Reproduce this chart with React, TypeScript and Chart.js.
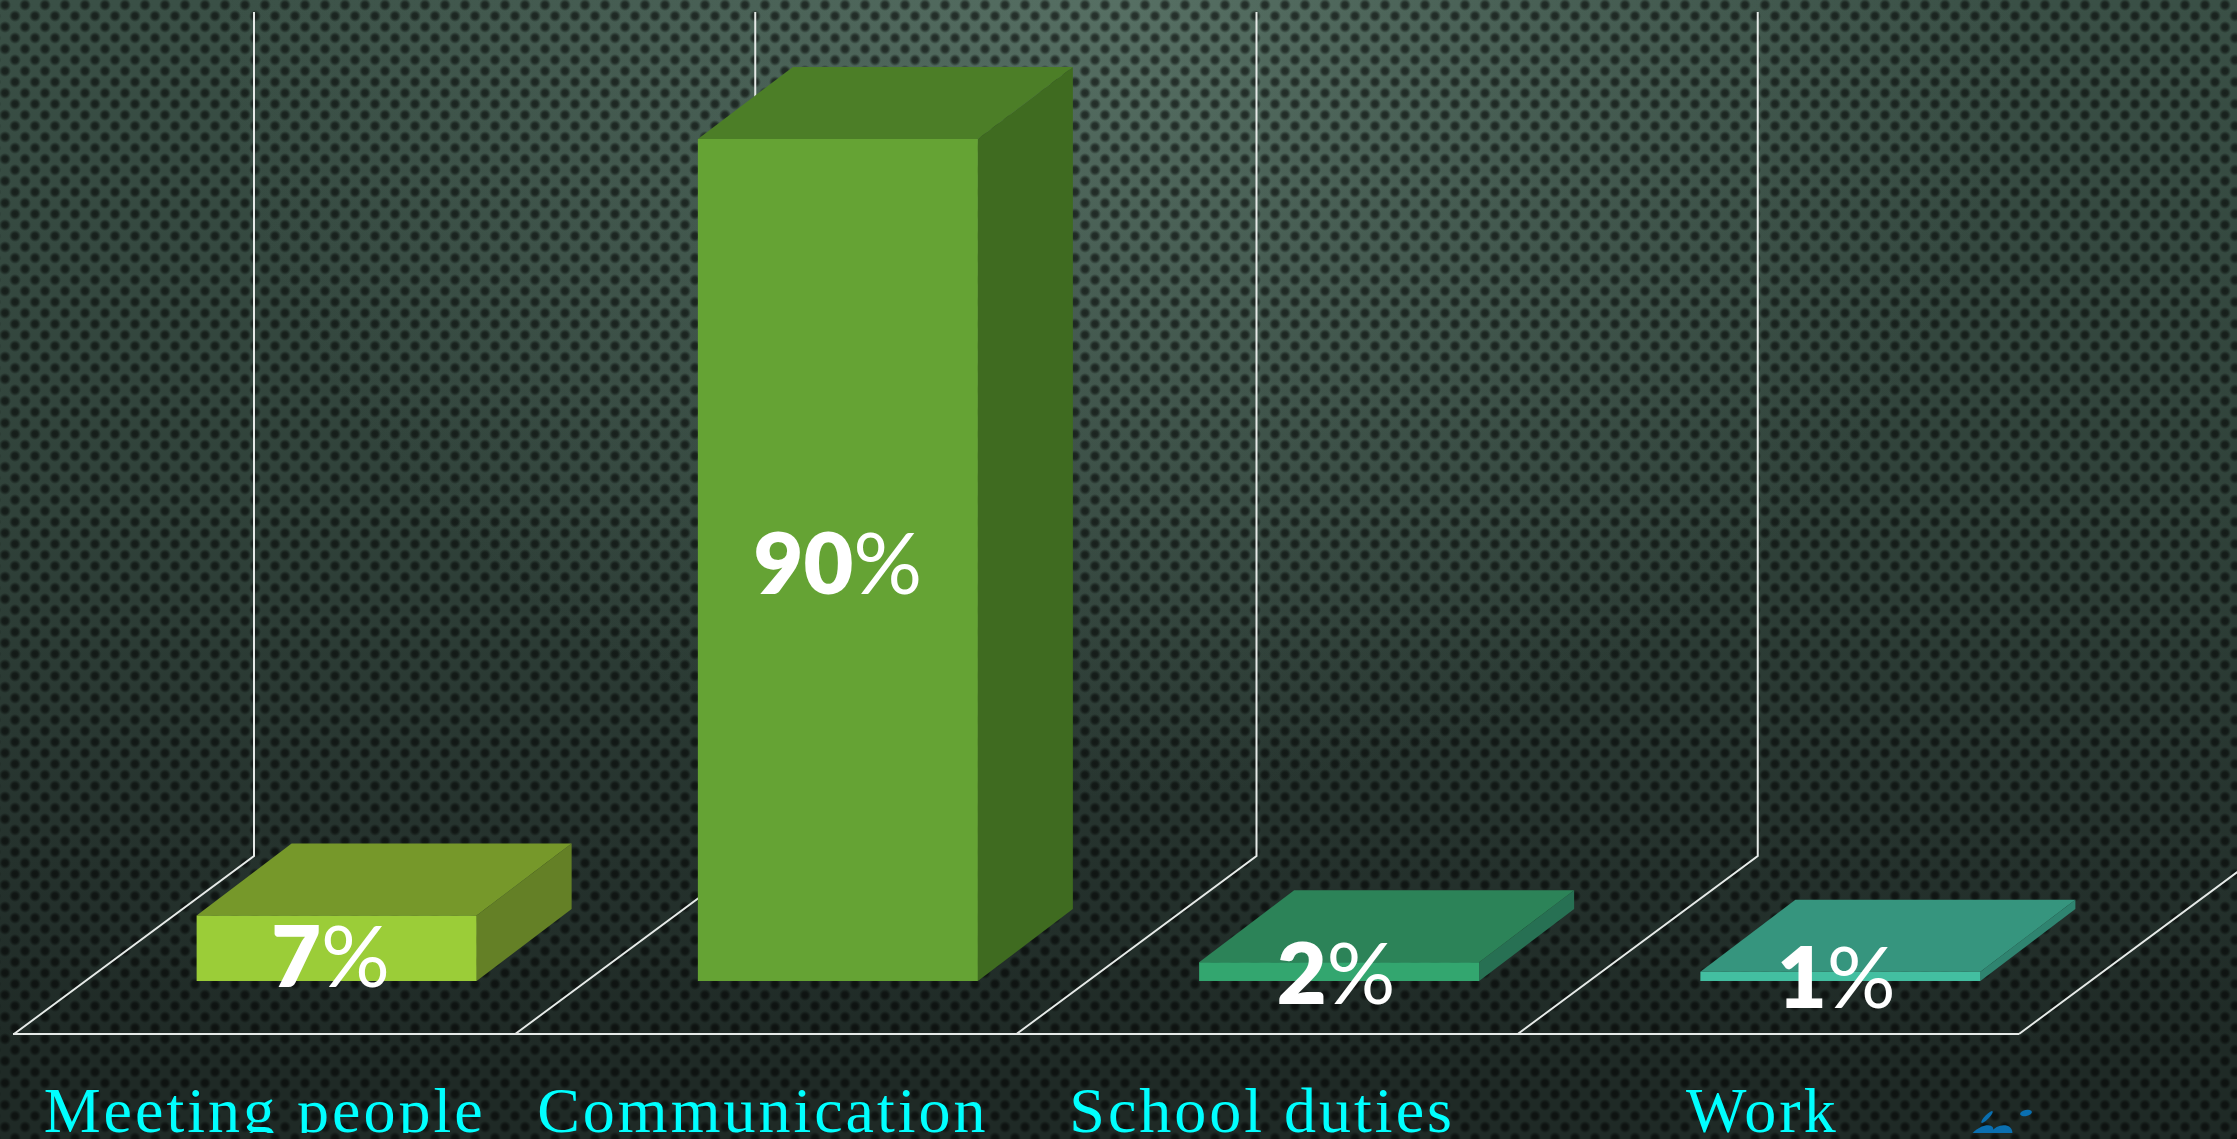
import React, { useEffect, useRef } from "react";
import { Chart, registerables } from "chart.js";

Chart.register(...registerables);

const categories = ["Meeting people", "Communication", "School duties", "Work"];
const shares = [7, 90, 2, 1];
const shareDigits = ["7", "90", "2", "1"];
const frontColors = ["#9BCD38", "#65A334", "#33A66F", "#43BFA1"];
const topColors = ["#76982A", "#4C7E27", "#2C8358", "#36957E"];
const sideColors = ["#648026", "#3F6B20", "#277053", "#2F8470"];
const labelNudge = [11, 6, 5, 4];
const labelNudgeX = [-6, 0, -3, -4];
const tickNudge = [0, -3, -5, -6];

const WIDTH = 2237;
const HEIGHT = 1133;
const BAR_DX = 95;
const BAR_DY = 72;
const FLOOR_SHIFT_X = 72;
const FLOOR_SHIFT_Y = 53;
const FLOOR_DX = 240;
const FLOOR_DY = 178;
const WALL_HEIGHT = 844;

const box3d = {
  id: "box3d",
  beforeDraw(chart: any) {
    chart.ctx.letterSpacing = "3px";
    const x = chart.scales.x;
    if (!x.$nudged) {
      x.getLabelItems().forEach((item: any, i: number) => {
        item.options.translation[0] += tickNudge[i];
      });
      x.$nudged = true;
    }
  },
  beforeDatasetsDraw(chart: any) {
    const { ctx, scales } = chart;
    const x = scales.x;
    const y = scales.y;
    const base = y.getPixelForValue(0);
    const step = (x.right - x.left) / categories.length;
    const front = base + FLOOR_SHIFT_Y;
    ctx.save();
    ctx.letterSpacing = "0px";
    ctx.strokeStyle = "#E6EAE8";
    ctx.lineWidth = 2;
    ctx.lineJoin = "miter";
    const left = x.left - FLOOR_SHIFT_X;
    ctx.beginPath();
    ctx.moveTo(left - 1, front);
    ctx.lineTo(left + step * categories.length, front);
    for (let i = 0; i <= categories.length; i++) {
      const ex = left + step * i;
      ctx.moveTo(ex, front);
      ctx.lineTo(ex + FLOOR_DX, front - FLOOR_DY);
      ctx.lineTo(ex + FLOOR_DX, front - FLOOR_DY - WALL_HEIGHT);
    }
    ctx.stroke();

    const meta = chart.getDatasetMeta(0);
    meta.data.forEach((bar: any, i: number) => {
      const l = bar.x - bar.width / 2;
      const r = bar.x + bar.width / 2;
      ctx.fillStyle = sideColors[i];
      ctx.beginPath();
      ctx.moveTo(r, bar.y);
      ctx.lineTo(r + BAR_DX, bar.y - BAR_DY);
      ctx.lineTo(r + BAR_DX, bar.base - BAR_DY);
      ctx.lineTo(r, bar.base);
      ctx.closePath();
      ctx.fill();
      ctx.fillStyle = topColors[i];
      ctx.beginPath();
      ctx.moveTo(l, bar.y);
      ctx.lineTo(l + BAR_DX, bar.y - BAR_DY);
      ctx.lineTo(r + BAR_DX, bar.y - BAR_DY);
      ctx.lineTo(r, bar.y);
      ctx.closePath();
      ctx.fill();
    });
    ctx.restore();
  },
  afterDatasetsDraw(chart: any) {
    const { ctx } = chart;
    const meta = chart.getDatasetMeta(0);
    ctx.save();
    ctx.letterSpacing = "0px";
    ctx.fillStyle = "#FFFFFF";
    ctx.textAlign = "left";
    ctx.textBaseline = "middle";
    const digitFont = "800 86px Lato";
    const signFont = "400 86px Lato";
    meta.data.forEach((bar: any, i: number) => {
      const digits = shareDigits[i];
      ctx.font = digitFont;
      const w1 = ctx.measureText(digits).width;
      ctx.font = signFont;
      const w2 = ctx.measureText("%").width;
      const startX = bar.x - (w1 + w2) / 2 + labelNudgeX[i];
      const cy = (bar.y + bar.base) / 2 + labelNudge[i];
      ctx.font = digitFont;
      ctx.fillText(digits, startX, cy);
      ctx.font = signFont;
      ctx.fillText("%", startX + w1, cy);
    });
    // fragment of the logo at the bottom right of the slide
    ctx.fillStyle = "#0A6FB0";
    const spots = [
      [1987, 1117, 8, 2, -0.8],
      [2026, 1113, 6, 3, -0.2],
      [1981, 1135, 14, 7, -0.6],
      [2001, 1135, 12, 9, -0.5],
    ];
    spots.forEach(([cx, cy, rx, ry, rot]) => {
      ctx.beginPath();
      ctx.ellipse(cx, cy, rx, ry, rot, 0, Math.PI * 2);
      ctx.fill();
    });
    ctx.restore();
  },
};

export default function App() {
  const ref = useRef<HTMLCanvasElement>(null);
  useEffect(() => {
    document.body.style.margin = "0";
    document.body.style.overflow = "hidden";
    const chart = new Chart(ref.current as HTMLCanvasElement, {
      type: "bar",
      data: {
        labels: categories,
        datasets: [
          {
            data: shares,
            backgroundColor: frontColors,
            barPercentage: 1,
            categoryPercentage: 0.5586,
            borderWidth: 0,
          },
        ],
      },
      options: {
        responsive: false,
        animation: false,
        layout: { padding: { left: 86, right: 146, top: 139, bottom: 0 } },
        plugins: { legend: { display: false }, tooltip: { enabled: false } },
        scales: {
          x: {
            grid: { display: false, drawTicks: false },
            border: { display: false },
            afterFit: (s: any) => {
              s.height = HEIGHT - 981;
            },
            ticks: {
              color: "#00FFFF",
              font: { family: "Liberation Serif", size: 64, lineHeight: 1 },
              padding: 102,
              maxRotation: 0,
              minRotation: 0,
              autoSkip: false,
              labelOffset: -FLOOR_SHIFT_X,
            },
          },
          y: { display: false, min: 0, max: 90 },
        },
      },
      plugins: [box3d],
    } as any);
    return () => chart.destroy();
  }, []);

  const dot = "radial-gradient(circle at center, rgba(0,0,0,0.6) 0, rgba(0,0,0,0.52) 3px, rgba(0,0,0,0) 6px)";
  const glow = "radial-gradient(ellipse 900px 800px at 50% 0%, rgba(125,155,140,0.42) 0%, rgba(125,155,140,0.22) 45%, rgba(125,155,140,0) 100%)";
  const wash = "linear-gradient(180deg, #3A5046 0%, #30423A 45%, #25322D 75%, #1F2A26 92%, #1F2A26 100%)";
  return (
    <div
      style={{
        position: "relative",
        width: WIDTH,
        height: 1139,
        overflow: "hidden",
        backgroundColor: "#1F2A26",
        backgroundImage: `${dot}, ${dot}, ${glow}, ${wash}`,
        backgroundSize: "20px 22px, 20px 22px, 100% 100%, 100% 100%",
        backgroundPosition: "-5px -6px, 5px 5px, 0 0, 0 0",
        backgroundRepeat: "repeat, repeat, no-repeat, no-repeat",
      }}
    >
      <canvas ref={ref} width={WIDTH} height={HEIGHT} style={{ display: "block" }} />
    </div>
  );
}
